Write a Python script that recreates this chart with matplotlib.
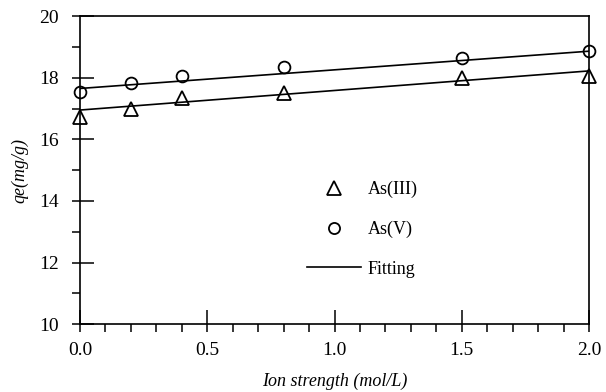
import numpy as np
import matplotlib
matplotlib.use("Agg")
import matplotlib.pyplot as plt
from matplotlib.lines import Line2D
from matplotlib.ticker import MultipleLocator

# ionic strength (mol/L)
ion = [0.0, 0.2, 0.4, 0.8, 1.5, 2.0]
as3 = [16.73, 17.00, 17.33, 17.50, 18.00, 18.06]
as5 = [17.55, 17.83, 18.05, 18.35, 18.65, 18.86]

# linear fitting lines (intercept, slope)
fit3 = (16.95, 0.635)
fit5 = (17.65, 0.605)

plt.rcParams['font.family'] = ['Liberation Serif', 'DejaVu Serif']

fig = plt.figure(figsize=(6.06, 3.92), dpi=100)
ax = fig.add_axes([0.132, 0.173, 0.840, 0.786])

xf = np.array([0.0, 2.0])
ax.plot(xf, fit3[0] + fit3[1] * xf, color='black', lw=1.2)
ax.plot(xf, fit5[0] + fit5[1] * xf, color='black', lw=1.2)
ax.plot(ion, as3, ls='none', marker='^', ms=10, mfc='none', mec='black',
        mew=1.3, clip_on=False)
ax.plot(ion, as5, ls='none', marker='o', ms=8.5, mfc='none', mec='black',
        mew=1.3, clip_on=False)

ax.set_xlim(0, 2.0)
ax.set_ylim(10, 20)
ax.xaxis.set_major_locator(MultipleLocator(0.5))
ax.xaxis.set_minor_locator(MultipleLocator(0.1))
ax.yaxis.set_major_locator(MultipleLocator(2))
ax.yaxis.set_minor_locator(MultipleLocator(1))
# keep the outward minor ticks under the major ones too
ax.xaxis.remove_overlapping_locs = False
ax.yaxis.remove_overlapping_locs = False
ax.xaxis.set_major_formatter(plt.FuncFormatter(lambda v, p: '%.1f' % v))
ax.tick_params(which='major', direction='in', length=10, width=1.1,
               labelsize=14)
ax.tick_params(axis='x', which='major', pad=13)
ax.tick_params(axis='y', which='major', pad=15)
ax.tick_params(which='minor', direction='out', length=6, width=1.1)
for s in ax.spines.values():
    s.set_linewidth(1.2)

ax.set_xlabel('Ion strength (mol/L)', fontstyle='italic', fontsize=13, labelpad=10)
ax.set_ylabel('qe(mg/g)', fontstyle='italic', fontsize=13, labelpad=8)

handles = [
    Line2D([], [], ls='none', marker='^', ms=10, mfc='none', mec='black', mew=1.3),
    Line2D([], [], ls='none', marker='o', ms=8, mfc='none', mec='black', mew=1.3),
    Line2D([], [], color='black', lw=1.2),
]
ax.legend(handles, ['As(III)', 'As(V)', 'Fitting'], loc='upper left',
          bbox_to_anchor=(0.446, 0.465), frameon=False, fontsize=13,
          borderpad=0, borderaxespad=0, handlelength=3.0, handletextpad=0.35,
          labelspacing=1.25)

fig.savefig('out.png', dpi=100)
